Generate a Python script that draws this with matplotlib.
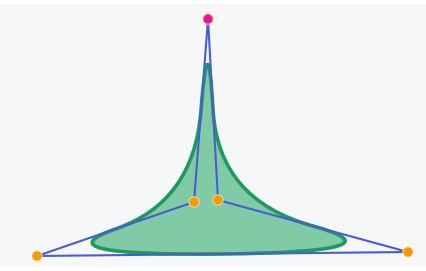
import matplotlib.pyplot as plt
from matplotlib.path import Path
from matplotlib.patches import PathPatch

# control points of the closed quadratic B-spline (pixel coords, y down)
px = [208, 194, 37, 408, 218]
py = [19, 202, 256, 252, 200]
handle_colors = ['#e8168c', '#f59b00', '#f59b00', '#f59b00', '#f59b00']

W, H = 426, 271
fig = plt.figure(figsize=(W / 100, H / 100), dpi=100, facecolor='white')
ax = fig.add_axes([0, 4 / H, 1, 263 / H])
ax.set_xlim(0, W)
ax.set_ylim(267, 4)
ax.set_facecolor('#f6f7f8')
for s in ax.spines.values():
    s.set_visible(False)
ax.set_xticks([])
ax.set_yticks([])

# closed curve: quadratic segments through edge midpoints
n = len(px)
mid = lambda i, j: ((px[i] + px[j]) / 2, (py[i] + py[j]) / 2)
verts = [mid(n - 1, 0)]
codes = [Path.MOVETO]
for i in range(n):
    verts += [(px[i], py[i]), mid(i, (i + 1) % n)]
    codes += [Path.CURVE3, Path.CURVE3]
verts.append(verts[0])
codes.append(Path.CLOSEPOLY)
shape = PathPatch(Path(verts, codes), facecolor='#80cba6', edgecolor='#1e9a60',
                  linewidth=2.6, zorder=2)
ax.add_patch(shape)

# control polygon
ax.plot(px + [px[0]], py + [py[0]], color='#4a5cd4', linewidth=1.5, zorder=3)

# handles
ax.scatter(px, py, s=55, c=handle_colors, edgecolors='#fbe3c0', linewidths=0.6, zorder=4)

fig.savefig('out.png', dpi=100, facecolor='white')
